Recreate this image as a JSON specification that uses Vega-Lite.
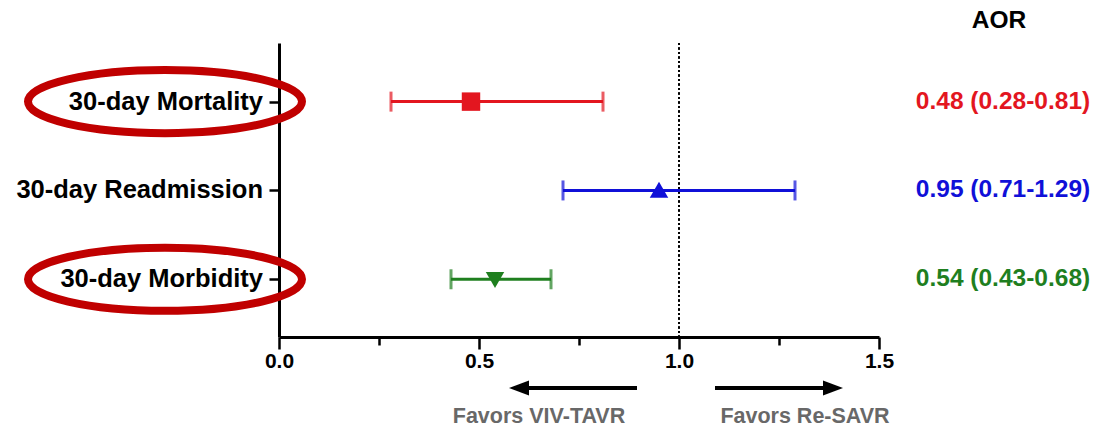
{
  "$schema": "https://vega.github.io/schema/vega-lite/v6.json",
  "autosize": {"type": "none"},
  "padding": {"left": 279, "top": 43, "right": 218, "bottom": 91},
  "width": 600,
  "height": 294,
  "background": "white",
  "config": {
    "view": {"stroke": null},
    "font": "Liberation Sans",
    "text": {"font": "Liberation Sans", "fontWeight": "bold"}
  },
  "datasets": {
    "rows": [
      {"outcome": "30-day Mortality", "row": 1, "aor": 0.48, "lo": 0.28, "hi": 0.81, "label": "0.48 (0.28-0.81)", "circled": true},
      {"outcome": "30-day Readmission", "row": 2, "aor": 0.95, "lo": 0.71, "hi": 1.29, "label": "0.95 (0.71-1.29)", "circled": false},
      {"outcome": "30-day Morbidity", "row": 3, "aor": 0.54, "lo": 0.43, "hi": 0.68, "label": "0.54 (0.43-0.68)", "circled": true}
    ],
    "arrows": [
      {"dir": "left", "from": 0.895, "to": 0.6, "labelX": 0.65, "label": "Favors VIV-TAVR"},
      {"dir": "right", "from": 1.09, "to": 1.385, "labelX": 1.315, "label": "Favors Re-SAVR"}
    ]
  },
  "resolve": {"scale": {"shape": "independent"}},
  "layer": [
    {
      "data": {"name": "rows"},
      "mark": {"type": "rule", "color": "black", "strokeWidth": 2, "strokeDash": [2, 2.5]},
      "encoding": {
        "x": {
          "datum": 1,
          "type": "quantitative",
          "scale": {"domain": [0, 1.5], "nice": false, "zero": false},
          "axis": {
            "title": null,
            "values": [0, 0.25, 0.5, 0.75, 1, 1.25, 1.5],
            "format": ".1f",
            "labelExpr": "datum.value % 0.5 ? '' : datum.label",
            "labelFont": "Liberation Sans",
            "labelFontWeight": "bold",
            "labelFontSize": 21,
            "labelColor": "black",
            "labelPadding": 1,
            "labelFlush": false,
            "tickColor": "black",
            "tickWidth": 2.5,
            "tickSize": {"condition": {"test": "datum.value % 0.5 != 0", "value": 8}, "value": 12},
            "domainColor": "black",
            "domainWidth": 3,
            "grid": false
          }
        }
      }
    },
    {
      "data": {"name": "rows"},
      "mark": {"type": "rule", "strokeWidth": 3},
      "encoding": {
        "x": {"field": "lo", "type": "quantitative"},
        "x2": {"field": "hi"},
        "y": {
          "field": "row",
          "type": "quantitative",
          "scale": {"domain": [0.34, 3.65], "reverse": true, "nice": false, "zero": false},
          "axis": {
            "title": null,
            "values": [1, 2, 3],
            "labels": false,
            "tickSize": 10,
            "tickWidth": 2.5,
            "tickColor": "black",
            "domainColor": "black",
            "domainWidth": 3,
            "grid": false
          }
        },
        "color": {
          "field": "outcome",
          "type": "nominal",
          "scale": {"domain": ["30-day Mortality", "30-day Readmission", "30-day Morbidity"], "range": ["#e3161f", "#1010d8", "#1f7f1f"]},
          "legend": null
        }
      }
    },
    {
      "data": {"name": "rows"},
      "mark": {"type": "tick", "orient": "vertical", "size": 20, "thickness": 3},
      "encoding": {
        "x": {"field": "lo", "type": "quantitative"},
        "y": {"field": "row", "type": "quantitative"},
        "color": {"field": "outcome", "type": "nominal", "legend": null}
      }
    },
    {
      "data": {"name": "rows"},
      "mark": {"type": "tick", "orient": "vertical", "size": 20, "thickness": 3},
      "encoding": {
        "x": {"field": "hi", "type": "quantitative"},
        "y": {"field": "row", "type": "quantitative"},
        "color": {"field": "outcome", "type": "nominal", "legend": null}
      }
    },
    {
      "data": {"name": "rows"},
      "mark": {"type": "point", "filled": true, "opacity": 1, "size": 340},
      "encoding": {
        "x": {"field": "aor", "type": "quantitative"},
        "y": {"field": "row", "type": "quantitative"},
        "color": {"field": "outcome", "type": "nominal", "legend": null},
        "shape": {
          "field": "outcome",
          "type": "nominal",
          "scale": {"domain": ["30-day Mortality", "30-day Readmission", "30-day Morbidity"], "range": ["square", "M0,-0.95L1,0.8L-1,0.8Z", "M0,0.95L1,-0.8L-1,-0.8Z"]},
          "legend": null
        }
      }
    },
    {
      "data": {"name": "rows"},
      "mark": {"type": "text", "align": "right", "baseline": "middle", "fontSize": 25.5, "color": "black"},
      "encoding": {
        "x": {"datum": -0.04, "type": "quantitative"},
        "y": {"field": "row", "type": "quantitative"},
        "text": {"field": "outcome"}
      }
    },
    {
      "data": {"name": "rows"},
      "mark": {"type": "text", "align": "center", "baseline": "middle", "fontSize": 24.5},
      "encoding": {
        "x": {"datum": 1.81, "type": "quantitative"},
        "y": {"field": "row", "type": "quantitative"},
        "text": {"field": "label"},
        "color": {"field": "outcome", "type": "nominal", "legend": null}
      }
    },
    {
      "data": {"values": [{"header": "AOR"}]},
      "mark": {"type": "text", "align": "center", "baseline": "middle", "fontSize": 24.5, "color": "black"},
      "encoding": {
        "x": {"datum": 1.8, "type": "quantitative"},
        "y": {"datum": 0.09, "type": "quantitative"},
        "text": {"field": "header"}
      }
    },
    {
      "data": {"name": "rows"},
      "transform": [{"filter": "datum.circled"}],
      "mark": {
        "type": "point",
        "shape": "M-1,0A1,0.23,0,1,0,1,0A1,0.23,0,1,0,-1,0Z",
        "size": 75076,
        "filled": false,
        "fill": null,
        "stroke": "#c00000",
        "strokeWidth": 8,
        "opacity": 1
      },
      "encoding": {
        "x": {"datum": -0.285, "type": "quantitative"},
        "y": {"field": "row", "type": "quantitative"}
      }
    },
    {
      "data": {"name": "arrows"},
      "mark": {"type": "rule", "color": "black", "strokeWidth": 4},
      "encoding": {
        "x": {"field": "from", "type": "quantitative"},
        "x2": {"field": "to"},
        "y": {"datum": 4.225, "type": "quantitative"}
      }
    },
    {
      "data": {"name": "arrows"},
      "mark": {"type": "point", "filled": true, "color": "black", "opacity": 1, "size": 400},
      "encoding": {
        "x": {"field": "to", "type": "quantitative"},
        "y": {"datum": 4.225, "type": "quantitative"},
        "shape": {
          "field": "dir",
          "type": "nominal",
          "scale": {"domain": ["left", "right"], "range": ["M-1,0L1,-0.75L1,0.75Z", "M1,0L-1,-0.75L-1,0.75Z"]},
          "legend": null
        }
      }
    },
    {
      "data": {"name": "arrows"},
      "mark": {"type": "text", "align": "center", "baseline": "alphabetic", "fontSize": 21.5, "color": "#686868"},
      "encoding": {
        "x": {"field": "labelX", "type": "quantitative"},
        "y": {"datum": 4.62, "type": "quantitative"},
        "text": {"field": "label"}
      }
    }
  ]
}
